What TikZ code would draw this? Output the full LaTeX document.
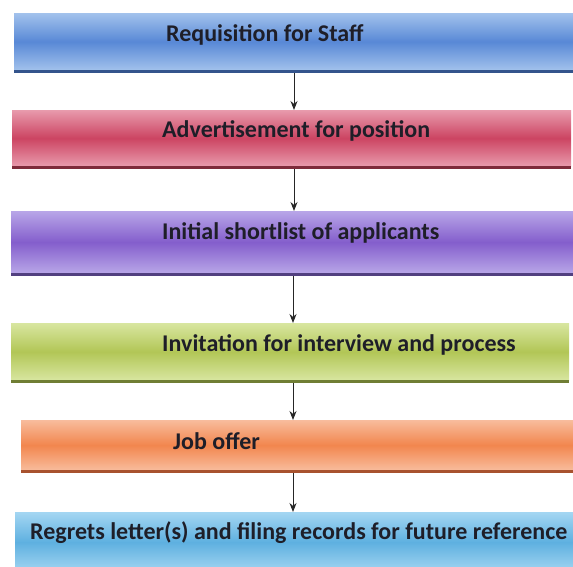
\documentclass[tikz,border=0pt]{standalone}
\usepackage{fontspec}
\setmainfont{Carlito}
\usetikzlibrary{arrows.meta}
\definecolor{b1e}{HTML}{A2C2EC}\definecolor{b1m}{HTML}{5888D6}\definecolor{b1s}{HTML}{34548C}
\definecolor{b2e}{HTML}{E89AAC}\definecolor{b2m}{HTML}{CC4462}\definecolor{b2s}{HTML}{7E2A3A}
\definecolor{b3e}{HTML}{B8A6E8}\definecolor{b3m}{HTML}{845ECC}\definecolor{b3s}{HTML}{524080}
\definecolor{b4e}{HTML}{D8E6A0}\definecolor{b4m}{HTML}{B2C656}\definecolor{b4s}{HTML}{707E34}
\definecolor{b5e}{HTML}{F8BC9C}\definecolor{b5m}{HTML}{F2864E}\definecolor{b5s}{HTML}{A8522E}
\definecolor{b6e}{HTML}{A4D6F2}\definecolor{b6m}{HTML}{5EB0E0}\definecolor{b6s}{HTML}{3A7AA8}
\definecolor{txt}{HTML}{1E1E28}
\begin{document}
\begin{tikzpicture}[x=1pt,y=-1pt,
  box/.style={draw=none,inner sep=0pt,anchor=north west,rectangle},
  lbl/.style={inner sep=0pt,anchor=west,text=txt,font=\fontsize{24}{26}\selectfont\bfseries},
  arr/.style={-{Stealth[length=9pt,width=7pt]},line width=1pt,draw=black!85}]
\useasboundingbox (0,0) rectangle (573,566);
% box 1
\node[box,minimum width=562pt,minimum height=57pt,top color=b1e,bottom color=b1e,middle color=b1m] (b1) at (14,13) {};
\draw[b1s,line width=3pt] ([yshift=-1.5pt]b1.south west) -- ([yshift=-1.5pt]b1.south east);
\node[lbl] (t1) at (166,35) {Requisition for Staff};
% box 2
\node[box,minimum width=559pt,minimum height=56pt,top color=b2e,bottom color=b2e,middle color=b2m] (b2) at (12,110) {};
\draw[b2s,line width=3pt] ([yshift=-1.5pt]b2.south west) -- ([yshift=-1.5pt]b2.south east);
\node[lbl] (t2) at (162,131) {Advertisement for position};
% box 3
\node[box,minimum width=565pt,minimum height=62pt,top color=b3e,bottom color=b3e,middle color=b3m] (b3) at (11,211) {};
\draw[b3s,line width=3pt] ([yshift=-1.5pt]b3.south west) -- ([yshift=-1.5pt]b3.south east);
\node[lbl] (t3) at (162,233) {Initial shortlist of applicants};
% box 4
\node[box,minimum width=558pt,minimum height=57pt,top color=b4e,bottom color=b4e,middle color=b4m] (b4) at (11,323) {};
\draw[b4s,line width=3pt] ([yshift=-1.5pt]b4.south west) -- ([yshift=-1.5pt]b4.south east);
\node[lbl] (t4) at (162,345) {Invitation for interview and process};
% box 5
\node[box,minimum width=555pt,minimum height=50pt,top color=b5e,bottom color=b5e,middle color=b5m] (b5) at (21,420) {};
\draw[b5s,line width=3pt] ([yshift=-1.5pt]b5.south west) -- ([yshift=-1.5pt]b5.south east);
\node[lbl] (t5) at (173,441) {Job offer};
% box 6
\node[box,minimum width=561pt,minimum height=60pt,top color=b6e,bottom color=b6e,middle color=b6m] (b6) at (15,512) {};
\node[lbl] (t6) at (30,533) {Regrets letter(s) and filing records for future reference};
% arrows
\coordinate (ax1) at (294,0);
\coordinate (ax2) at (293,0);
\draw[arr] ([yshift=-3pt]b1.south -| ax1) -- (b2.north -| ax1);
\draw[arr] ([yshift=-3pt]b2.south -| ax1) -- (b3.north -| ax1);
\draw[arr] ([yshift=-3pt]b3.south -| ax2) -- (b4.north -| ax2);
\draw[arr] ([yshift=-3pt]b4.south -| ax2) -- (b5.north -| ax2);
\draw[arr] ([yshift=-3pt]b5.south -| ax2) -- (b6.north -| ax2);
\end{tikzpicture}
\end{document}
